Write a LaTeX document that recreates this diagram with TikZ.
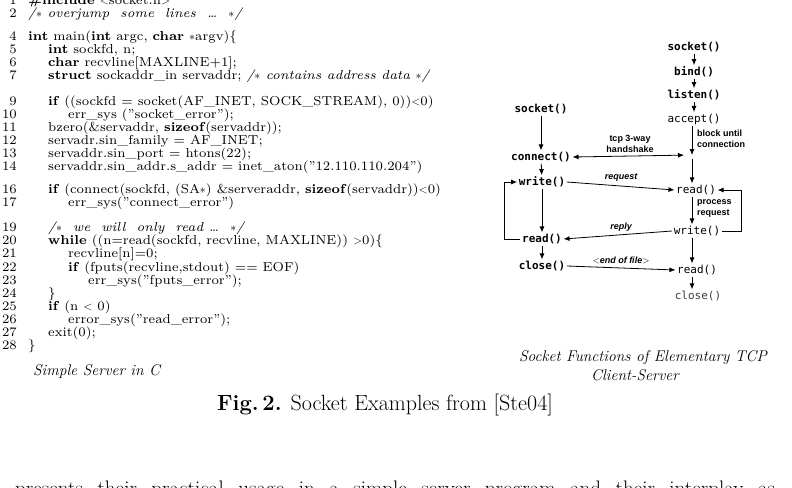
\documentclass[tikz,border=0pt]{standalone}
\usepackage{fontspec}
\newfontfamily\codefont{lmroman7-regular.otf}[BoldFont=lmroman7-bold.otf, ItalicFont=lmroman7-italic.otf]
\newfontfamily\fnfont{DejaVu Sans Mono}
\newfontfamily\lblfont{Liberation Sans}
\usetikzlibrary{arrows.meta}

\tikzset{
  codeline/.style={anchor=base west, inner sep=0pt, font=\fontsize{13}{13}\codefont},
  lineno/.style={anchor=base east, inner sep=0pt, font=\fontsize{13}{13}\codefont},
  fn/.style={inner sep=1.5pt, font=\fontsize{11}{11}\fnfont\bfseries},
  fnlight/.style={inner sep=1.5pt, font=\fontsize{11}{11}\fnfont},
  lbl/.style={font=\fontsize{9}{11}\lblfont\bfseries, align=left, inner sep=0pt},
  msg/.style={font=\fontsize{9}{10}\lblfont\bfseries\itshape, inner sep=0pt},
  arr/.style={-{Latex[length=6pt,width=5pt]}, line width=0.8pt},
  subcap/.style={font=\fontsize{15.5}{18}\selectfont\itshape, inner sep=0pt},
}
% one numbered line of the listing: number, baseline, indent, text
\newcommand{\codeln}[4]{%
  \node[lineno] (n#1) at (17,#2) {#1};
  \node[codeline] (l#1) at (#3,#2) {#4};}
\newcommand{\qq}[1]{\textquotedblright#1\textquotedblright}

\begin{document}
\begin{tikzpicture}[x=1pt,y=-1pt]
  \useasboundingbox (0,0) rectangle (792,487);
  \clip (0,0) rectangle (792,487);

  % listing
  \codeln{1}{4.5}{28}{\textbf{\#include} $<$socket.h$>$}
  \codeln{2}{17.5}{28}{\textit{/$*$\ overjump\ \ some\ \ lines\ \ \dots\ \ $*$/}}
  \codeln{4}{40.5}{28}{\textbf{int} main(\textbf{int} argc, \textbf{char} $*$argv)\{}
  \codeln{5}{53.5}{48}{\textbf{int} sockfd, n;}
  \codeln{6}{66.5}{48}{\textbf{char} recvline[MAXLINE+1];}
  \codeln{7}{79.5}{48}{\textbf{struct} sockaddr\_in servaddr; \textit{/$*$ contains\ address\ data $*$/}}
  \codeln{9}{105.5}{48}{\textbf{if} ((sockfd = socket(AF\_INET, SOCK\_STREAM), 0))$<$0)}
  \codeln{10}{118.5}{68}{err\_sys (\qq{socket\_error});}
  \codeln{11}{131.5}{48}{bzero(\&servaddr, \textbf{sizeof}(servaddr));}
  \codeln{12}{144.5}{48}{servadr.sin\_family = AF\_INET;}
  \codeln{13}{157.5}{48}{servaddr.sin\_port = htons(22);}
  \codeln{14}{170.5}{48}{servaddr.sin\_addr.s\_addr = inet\_aton(\qq{12.110.110.204})}
  \codeln{16}{193.5}{48}{\textbf{if} (connect(sockfd, (SA$*$) \&serveraddr, \textbf{sizeof}(servaddr))$<$0)}
  \codeln{17}{206.5}{68}{err\_sys(\qq{connect\_error})}
  \codeln{19}{231.5}{48}{\textit{/$*$\ \ we\ \ will\ \ only\ \ read \dots\ \ $*$/}}
  \codeln{20}{244.5}{48}{\textbf{while} ((n=read(sockfd, recvline, MAXLINE)) $>$0)\{}
  \codeln{21}{257.5}{68}{recvline[n]=0;}
  \codeln{22}{271.5}{68}{\textbf{if} (fputs(recvline,stdout) == EOF)}
  \codeln{23}{284.5}{88}{err\_sys(\qq{fputs\_error});}
  \codeln{24}{297.5}{48}{\}}
  \codeln{25}{310.5}{48}{\textbf{if} (n $<$ 0)}
  \codeln{26}{323.5}{68}{error\_sys(\qq{read\_error});}
  \codeln{27}{336.5}{48}{exit(0);}
  \codeln{28}{349.5}{28}{\}}
  \node[subcap, anchor=base west] (capc) at (33,375) {Simple Server in C};

  % server side
  \node[fn] (ssocket) at (694,47) {socket()};
  \node[fn] (sbind) at (694,72) {bind()};
  \node[fn] (slisten) at (694,95) {listen()};
  \node[fnlight] (saccept) at (694,119) {accept()};
  \coordinate (hs) at (692,155);
  \node[fnlight] (sread) at (696,190) {read()};
  \node[fnlight] (swrite) at (697,231) {write()};
  \node[fnlight] (sread2) at (697,270) {read()};
  \node[fnlight, text=black!75] (sclose) at (698,296) {close()};

  % client side
  \node[fn] (csocket) at (541,109) {socket()};
  \node[fn] (cconnect) at (541,157) {connect()};
  \node[fn] (cwrite) at (542,182) {write()};
  \node[fn] (cread) at (542,239) {read()};
  \node[fn] (cclose) at (542,266) {close()};

  \draw[arr] (ssocket) -- (sbind);
  \draw[arr] (sbind) -- (slisten);
  \draw[arr] (slisten) -- (saccept);
  \draw[arr] (saccept.south -| hs) -- (hs);
  \draw[arr, shorten <=4pt] (hs) -- (sread.north -| hs);
  \draw[arr] (sread.south -| hs) -- (swrite.north -| hs);
  \draw[arr] (swrite.south -| hs) -- (sread2.north -| hs);
  \draw[arr] (sread2.south -| hs) -- (sclose.north -| hs);
  \draw[arr] (swrite.east) -- ++(20,0) |- (sread.east);

  \draw[arr] (csocket) -- (cconnect);
  \draw[arr] (cconnect) -- (cwrite);
  \draw[arr] (cwrite) -- (cread);
  \draw[arr] (cread) -- (cclose);
  \draw[arr] (cread.west) -- ++(-16,0) |- (cwrite.west);

  \draw[{Latex[length=6pt,width=5pt]}-{Latex[length=6pt,width=5pt]}, line width=0.8pt, shorten >=8pt] (cconnect.east) -- (hs);
  \draw[arr] (cwrite.east) -- (sread.west);
  \draw[arr] (swrite.west) -- (cread.east);
  \draw[arr] (cclose.east) -- (sread2.west);

  \node[lbl, align=center] (tcp) at (630,144) {tcp 3-way\\handshake};
  \node[lbl, anchor=west] (block) at (697,139) {block until\\connection};
  \node[lbl, anchor=west] (proc) at (697,209) {process\\request};
  \node[msg] (req) at (621,177) {request};
  \node[msg] (rep) at (621,227) {reply};
  \node[msg] (eof) at (621,260) {$<$end of file$>$};

  \node[subcap] (caps1) at (643,358) {Socket Functions of Elementary TCP};
  \node[subcap] (caps2) at (635,375) {Client-Server};

  % figure caption and running text
  \node[font=\fontsize{22}{24}\selectfont, inner sep=0pt] (fig) at (385,405) {\textbf{Fig.\,2.} Socket Examples from [Ste04]};
  \node[font=\fontsize{21}{24}\selectfont, anchor=base west, inner sep=0pt] (body) at (15,495) {\makebox[760pt][s]{presents their practical usage in a simple server program and their interplay as}};
\end{tikzpicture}
\end{document}
